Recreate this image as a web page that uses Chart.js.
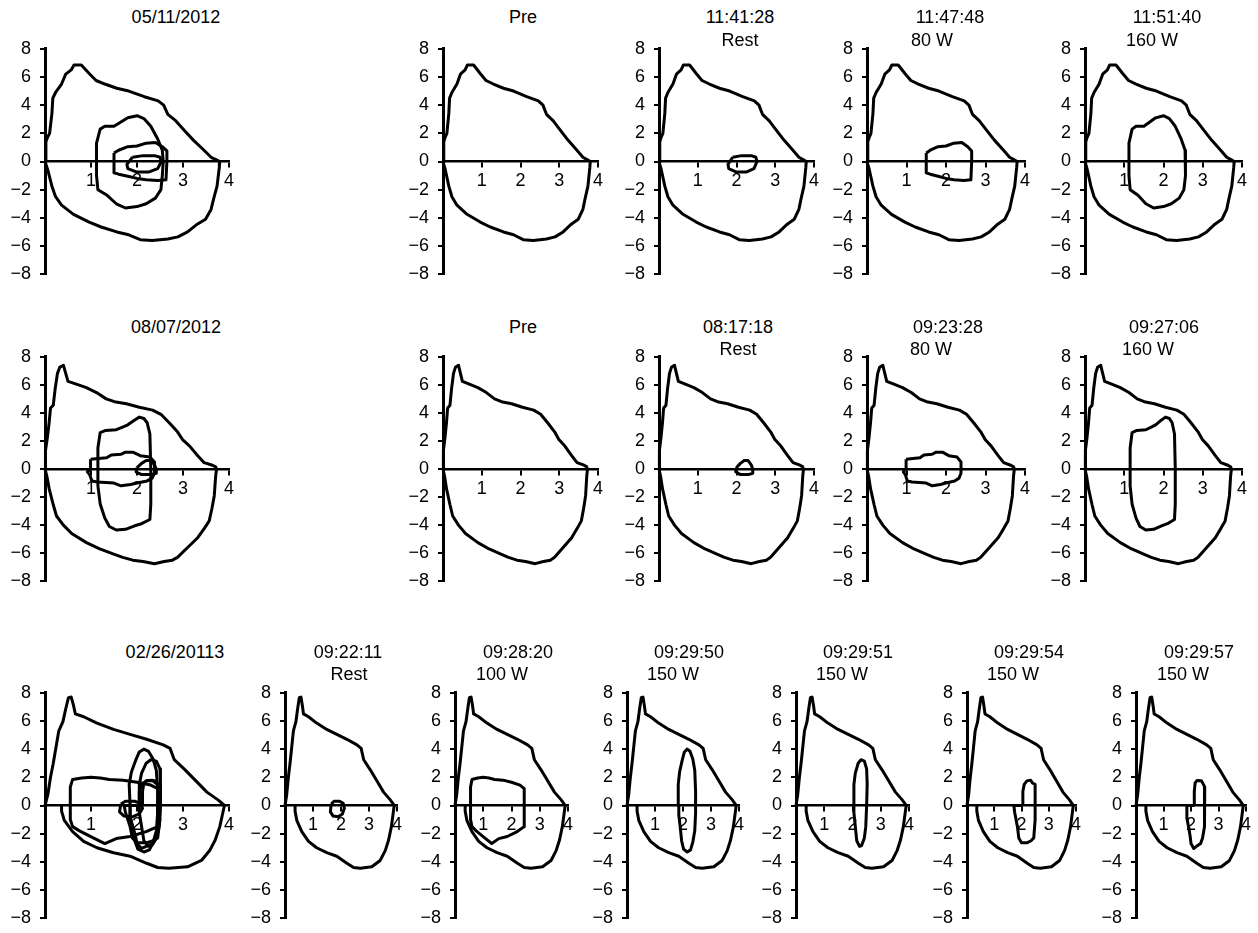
<!DOCTYPE html>
<html>
<head>
<meta charset="utf-8">
<script src="https://cdn.jsdelivr.net/npm/chart.js@4.4.1/dist/chart.umd.min.js"></script>
<style>
  body { margin: 0; background: #fff; width: 1258px; height: 933px; position: relative; overflow: hidden;
         font-family: "Liberation Sans", Arial, sans-serif; }
  canvas { position: absolute; }
  .ttl { position: absolute; font-size: 18px; color: #000; white-space: nowrap; line-height: 1;
         transform: translate(-50%, -50%); }
</style>
</head>
<body>
<script>
// Axis ticks
const xTickValues = [0, 1, 2, 3, 4];
const yTickValues = [-8, -6, -4, -2, 0, 2, 4, 6, 8];

// Maximal flow-volume loops (volume L, flow L/s), one per test date
const outer1 = [[0,0],[0.02,1.4],[0.06,1.75],[0.1,2.0],[0.15,3.4],[0.17,4.5],[0.23,4.9],[0.36,5.5],[0.45,6.2],
  [0.57,6.5],[0.63,6.85],[0.79,6.85],[0.96,6.25],[1.11,5.75],[1.3,5.5],[1.56,5.2],[1.82,5.0],[2.16,4.6],
  [2.46,4.3],[2.58,4.0],[2.67,3.35],[2.84,2.9],[3.06,2.1],[3.23,1.5],[3.44,0.85],[3.61,0.3],[3.74,0.1],[3.8,0],
  [3.79,-0.4],[3.74,-1.75],[3.67,-2.6],[3.61,-3.4],[3.49,-4.1],[3.31,-4.45],[3.1,-5.0],[2.89,-5.35],[2.67,-5.5],
  [2.33,-5.6],[2.07,-5.55],[1.82,-5.2],[1.56,-5.0],[1.22,-4.65],[0.96,-4.3],[0.62,-3.75],[0.36,-3.1],
  [0.23,-2.5],[0.15,-1.75],[0.06,-0.6],[0,0]];
const outer2 = [[0,0],[0.01,1.3],[0.05,2.2],[0.09,3.3],[0.12,4.35],[0.18,4.55],[0.22,5.7],[0.27,6.8],[0.32,7.25],
  [0.4,7.4],[0.43,7.05],[0.5,6.25],[0.68,6.05],[0.9,5.8],[1.12,5.45],[1.33,5.0],[1.51,4.8],[1.77,4.65],
  [2.05,4.4],[2.34,4.2],[2.52,3.9],[2.7,3.3],[2.88,2.65],[2.99,2.1],[3.14,1.65],[3.32,0.95],[3.46,0.45],
  [3.64,0.27],[3.71,0.15],[3.73,0],[3.71,-0.5],[3.68,-1.9],[3.63,-2.8],[3.57,-3.7],[3.46,-4.25],[3.32,-4.9],
  [3.1,-5.6],[2.88,-6.3],[2.77,-6.5],[2.59,-6.6],[2.38,-6.75],[2.13,-6.6],[1.91,-6.5],[1.69,-6.3],[1.48,-6.05],
  [1.19,-5.7],[0.9,-5.25],[0.58,-4.6],[0.4,-4.0],[0.25,-3.35],[0.18,-2.55],[0.09,-1.4],[0.04,-0.5],[0,0]];
const outer3 = [[0,0],[0.06,0.75],[0.12,2.0],[0.18,3.0],[0.24,4.15],[0.3,5.3],[0.39,5.95],[0.45,6.85],[0.51,7.65],
  [0.57,7.7],[0.62,7.1],[0.66,6.5],[0.84,6.3],[1.13,5.85],[1.49,5.4],[1.85,5.05],[2.21,4.7],[2.57,4.3],
  [2.72,4.05],[2.81,3.25],[3.04,2.55],[3.28,1.75],[3.52,0.95],[3.76,0.4],[3.88,0.07],[3.9,0],[3.86,-0.6],
  [3.8,-1.5],[3.7,-2.45],[3.58,-3.2],[3.4,-3.9],[3.1,-4.35],[2.69,-4.45],[2.45,-4.4],[2.21,-4.1],[1.85,-3.6],
  [1.49,-3.35],[1.13,-3.0],[0.84,-2.55],[0.6,-1.85],[0.42,-1.05],[0.36,-0.4],[0.36,0]];

// Tidal loops, 05/11/2012
const r1Rest = [[1.9,0.3],[2.1,0.4],[2.4,0.4],[2.5,0.3],[2.53,0],[2.45,-0.5],[2.25,-0.75],[2.0,-0.75],
  [1.8,-0.5],[1.78,-0.2],[1.9,0.3]];
const r1W80 = [[1.5,0.6],[1.6,0.8],[1.8,1.05],[2.0,1.1],[2.2,1.3],[2.4,1.35],[2.55,1.05],[2.65,0.75],[2.65,0],
  [2.63,-1.3],[2.45,-1.35],[2.2,-1.3],[2.0,-1.2],[1.8,-1.05],[1.6,-0.9],[1.5,-0.8],[1.5,0.6]];
const r1W160 = [[1.12,0],[1.12,1.3],[1.2,2.3],[1.3,2.5],[1.5,2.5],[1.65,2.8],[1.8,3.1],[2.0,3.25],[2.15,3.05],
  [2.3,2.5],[2.45,1.6],[2.55,0.8],[2.57,0],[2.55,-1.0],[2.52,-2.0],[2.4,-2.6],[2.2,-3.0],[2.0,-3.2],[1.75,-3.3],
  [1.55,-3.0],[1.35,-2.4],[1.15,-2.0],[1.12,-1.0],[1.12,0]];

// Tidal loops, 08/07/2012
const r2Rest = [[2.0,0.1],[2.1,0.4],[2.2,0.6],[2.3,0.6],[2.38,0.3],[2.42,0],[2.42,-0.3],[2.3,-0.4],[2.1,-0.4],
  [1.98,-0.2],[2.0,0.1]];
const r2W80 = [[0.99,0.7],[1.34,0.8],[1.44,1.0],[1.65,1.05],[1.75,1.2],[1.91,1.2],[2.07,0.95],[2.28,0.85],
  [2.38,0.5],[2.38,-0.3],[2.33,-0.65],[2.22,-0.85],[2.0,-1.0],[1.86,-1.1],[1.65,-1.2],[1.5,-1.0],[1.14,-0.93],
  [1.02,-0.85],[0.97,-0.4],[0.92,-0.2],[0.99,0],[0.99,0.7]];
const r2W160 = [[1.15,0],[1.15,1.5],[1.2,2.6],[1.32,2.75],[1.55,2.8],[1.7,3.0],[1.8,3.15],[1.95,3.5],[2.05,3.7],
  [2.15,3.6],[2.22,3.3],[2.28,2.5],[2.3,0],[2.3,-2.5],[2.28,-3.6],[2.1,-3.9],[1.95,-4.05],[1.75,-4.3],
  [1.55,-4.35],[1.4,-4.1],[1.3,-3.5],[1.2,-2.5],[1.15,-1.2],[1.15,0]];

// Tidal loops, 02/26/2013
const r3Rest = [[1.65,0.1],[1.75,0.3],[1.95,0.3],[2.08,0.15],[2.12,-0.2],[2.05,-0.6],[1.9,-0.8],[1.72,-0.75],
  [1.62,-0.45],[1.65,0.1]];
const r3W100 = [[0.55,0],[0.55,1.3],[0.6,1.85],[0.8,1.95],[1.0,2.0],[1.2,1.95],[1.4,1.85],[1.7,1.8],[2.0,1.65],
  [2.3,1.45],[2.45,1.2],[2.45,0],[2.45,-1.5],[2.2,-1.85],[1.85,-2.2],[1.55,-2.35],[1.3,-2.7],[1.05,-2.3],
  [0.75,-1.8],[0.6,-1.5],[0.55,-1.0],[0.55,0]];
const r3W150a = [[1.85,0],[1.83,1.5],[1.88,2.4],[1.97,3.2],[2.05,3.8],[2.15,4.0],[2.25,3.85],[2.35,3.3],
  [2.42,2.5],[2.45,1.0],[2.45,-0.5],[2.42,-1.8],[2.35,-2.6],[2.27,-3.15],[2.15,-3.3],[2.02,-3.1],[1.95,-2.5],
  [1.9,-1.5],[1.85,-0.7],[1.85,0]];
const r3W150b = [[2.05,0],[2.05,1.5],[2.1,2.3],[2.2,3.0],[2.3,3.25],[2.42,3.15],[2.5,2.6],[2.52,1.5],[2.5,0],
  [2.47,-1.5],[2.42,-2.3],[2.32,-2.85],[2.25,-2.9],[2.15,-2.5],[2.1,-1.5],[2.05,-0.5],[2.05,0]];
const r3W150c = [[2.05,0],[2.05,1.0],[2.1,1.5],[2.2,1.75],[2.33,1.8],[2.4,1.6],[2.5,1.5],[2.5,0],[2.5,-1.0],
  [2.45,-2.3],[2.35,-2.5],[2.2,-2.65],[2.0,-2.65],[1.9,-2.3],[1.85,-1.5],[1.75,-0.5],[1.72,0],[2.05,0]];
const r3W150d = [[2.12,0],[2.12,1.0],[2.15,1.6],[2.22,1.78],[2.38,1.75],[2.45,1.5],[2.5,1.3],[2.5,0],
  [2.48,-1.5],[2.42,-2.3],[2.35,-2.7],[2.2,-2.9],[2.1,-3.05],[2.0,-2.7],[1.97,-2.2],[1.92,-1.6],[1.85,-0.9],
  [1.85,0],[2.12,0]];

// Panel titles
const titles = [
  [['05/11/2012'], ['Pre'], ['11:41:28', 'Rest'], ['11:47:48', '80 W'], ['11:51:40', '160 W']],
  [['08/07/2012'], ['Pre'], ['08:17:18', 'Rest'], ['09:23:28', '80 W'], ['09:27:06', '160 W']],
  [['02/26/20113'], ['09:22:11', 'Rest'], ['09:28:20', '100 W'], ['09:29:50', '150 W'], ['09:29:51', '150 W'],
   ['09:29:54', '150 W'], ['09:29:57', '150 W']]
];

// Loops drawn in each panel
const loops = [
  [[outer1, r1W160, r1W80, r1Rest], [outer1], [outer1, r1Rest], [outer1, r1W80], [outer1, r1W160]],
  [[outer2, r2W160, r2W80, r2Rest], [outer2], [outer2, r2Rest], [outer2, r2W80], [outer2, r2W160]],
  [[outer3, r3W100, r3Rest, r3W150a, r3W150b, r3W150c, r3W150d], [outer3, r3Rest], [outer3, r3W100],
   [outer3, r3W150a], [outer3, r3W150b], [outer3, r3W150c], [outer3, r3W150d]]
];

// Layout (pixels): y of +8 / -8 per row, x of 0 / 4 per panel, title centres
const rowY = [[43, 280], [351, 587], [687, 924]];
const colX = [
  [[45, 229], [443, 598], [659, 814], [867, 1025], [1085, 1242]],
  [[45, 229], [443, 598], [659, 814], [867, 1025], [1085, 1242]],
  [[45, 229], [285, 397], [455, 568], [627, 739], [796, 909], [967, 1076], [1136, 1246]]
];
const titleX = [
  [[176], [523], [740, 740], [950, 932], [1167, 1152]],
  [[176], [523], [738, 738], [948, 931], [1164, 1148]],
  [[175], [348, 349], [518, 502], [689, 673], [858, 842], [1029, 1013], [1199, 1183]]
];
const titleY = [[17, 40], [327, 349], [652, 674]];

const fmtY = v => v < 0 ? '\u2212' + (-v) : String(v);
const PAD = 14, YW = 45;
const tickFont = { family: '"Liberation Sans", Arial, sans-serif', size: 18 };

function addTitle(text, cx, cy) {
  const d = document.createElement('div');
  d.className = 'ttl';
  d.textContent = text;
  d.style.left = cx + 'px';
  d.style.top = cy + 'px';
  document.body.appendChild(d);
}

titles.forEach((row, r) => {
  row.forEach((lines, c) => {
    const [x0, x4] = colX[r][c];
    const [y8, ym8] = rowY[r];
    const cv = document.createElement('canvas');
    cv.width = (x4 - x0) + YW + PAD;
    cv.height = (ym8 - y8) + 2 * PAD;
    cv.style.left = (x0 - YW) + 'px';
    cv.style.top = (y8 - PAD) + 'px';
    document.body.appendChild(cv);

    lines.forEach((t, i) => addTitle(t, titleX[r][c][i], titleY[r][i]));

    new Chart(cv, {
      type: 'scatter',
      data: {
        datasets: loops[r][c].map(loop => ({
          data: loop.map(p => ({ x: p[0], y: p[1] })),
          showLine: true,
          borderColor: '#000',
          borderWidth: 3,
          borderJoinStyle: 'round',
          pointRadius: 0,
          tension: 0,
          fill: false,
          clip: false
        }))
      },
      options: {
        responsive: false,
        animation: false,
        layout: { padding: { left: 0, right: PAD, top: PAD, bottom: PAD } },
        plugins: { legend: { display: false }, tooltip: { enabled: false } },
        scales: {
          x: {
            type: 'linear',
            min: 0, max: 4,
            position: { y: 0 },
            afterBuildTicks: axis => { axis.ticks = xTickValues.map(v => ({ value: v })); },
            ticks: {
              callback: v => v === 0 ? '' : String(v),
              color: '#000', padding: 4, maxRotation: 0, font: tickFont
            },
            grid: { drawOnChartArea: false, drawTicks: true, tickLength: 5, color: '#000', lineWidth: 2 },
            border: { display: true, color: '#000', width: 2.5 }
          },
          y: {
            type: 'linear',
            min: -8, max: 8,
            position: 'left',
            afterBuildTicks: axis => { axis.ticks = yTickValues.map(v => ({ value: v })); },
            afterFit: axis => { axis.width = YW; },
            ticks: { callback: fmtY, color: '#000', padding: 9, font: tickFont },
            grid: { drawOnChartArea: false, drawTicks: true, tickLength: 5, color: '#000', lineWidth: 2 },
            border: { display: true, color: '#000', width: 3 }
          }
        }
      }
    });
  });
});
</script>
</body>
</html>
